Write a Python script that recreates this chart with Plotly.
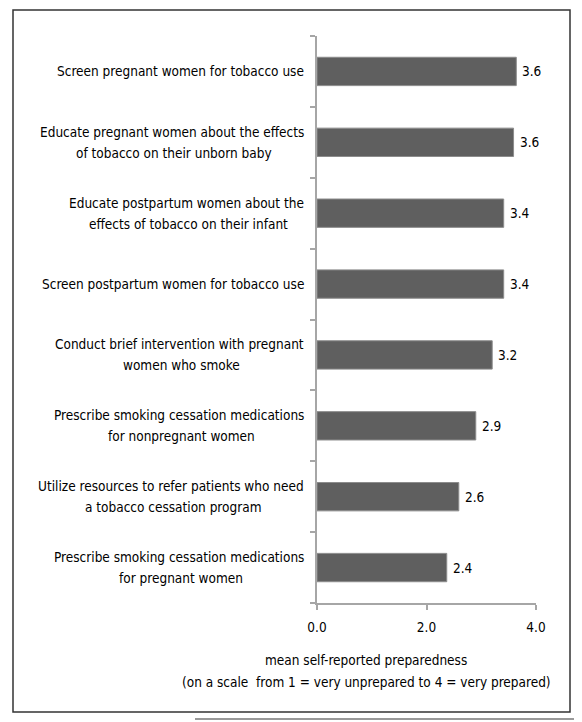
import plotly.graph_objects as go

categories = [
    "Screen pregnant women for tobacco use",
    "Educate pregnant women about the effects of tobacco on their unborn baby",
    "Educate postpartum women about the effects of tobacco on their infant",
    "Screen postpartum women for tobacco use",
    "Conduct brief intervention with pregnant women who smoke",
    "Prescribe smoking cessation medications for nonpregnant women",
    "Utilize resources to refer patients who need a tobacco cessation program",
    "Prescribe smoking cessation medications for pregnant women",
]
label_lines = [
    ["Screen pregnant women for tobacco use"],
    ["Educate pregnant women about the effects", "of tobacco on their unborn baby"],
    ["Educate postpartum women about the", "effects of tobacco on their infant"],
    ["Screen postpartum women for tobacco use"],
    ["Conduct brief intervention with pregnant", "women who smoke"],
    ["Prescribe smoking cessation medications", "for nonpregnant women"],
    ["Utilize resources to refer patients who need", "a tobacco cessation program"],
    ["Prescribe smoking cessation medications", "for pregnant women"],
]
values = [3.64, 3.59, 3.41, 3.41, 3.2, 2.9, 2.59, 2.37]
x_ticks = [0, 2, 4]
x_title_lines = [
    "mean self-reported preparedness",
    "(on a scale  from 1 = very unprepared to 4 = very prepared)",
]

# style: rendered pixel width of each label's first line (for centring line 2)
first_line_px = [247, 264, 235, 262, 249, 250, 266, 250]

FONT = "DejaVu Sans Condensed, Liberation Sans Narrow, sans-serif"
TXT = "#000000"
FS = 13.5
LINE = 21
GAP = 11

# page has an 8px body margin; figure coords = page coords - 8
W, H = 574, 714
L, R, T, B = 309, 46, 28, 119
PW, PH = W - L - R, H - T - B


def px(xf):
    return (xf - L) / PW


def py(yf):
    return (H - B - yf) / PH


fig = go.Figure()
fig.add_trace(go.Bar(
    x=values, y=categories, orientation="h",
    marker=dict(color="#5f5f5f", line=dict(color="#8c8c8c", width=1)),
    width=0.4, hoverinfo="skip",
))

ann = []
lab_font = dict(family=FONT, size=FS, color=TXT)
for cat, lines, w1 in zip(categories, label_lines, first_line_px):
    n = len(lines)
    for i, ln in enumerate(lines):
        ys = (n - 1) / 2 * LINE - i * LINE
        if i == 0:
            ann.append(dict(x=0, y=cat, xref="x", yref="y", text=ln, showarrow=False,
                            xanchor="right", yanchor="middle", xshift=-GAP, yshift=ys,
                            font=lab_font))
        else:
            ann.append(dict(x=0, y=cat, xref="x", yref="y", text=ln, showarrow=False,
                            xanchor="center", yanchor="middle",
                            xshift=-(GAP + w1 / 2), yshift=ys, font=lab_font))
for cat, v in zip(categories, values):
    ann.append(dict(x=v, y=cat, xref="x", yref="y", text=f"{v:.1f}", showarrow=False,
                    xanchor="left", yanchor="middle", xshift=4, font=lab_font))
for i, ln in enumerate(x_title_lines):
    ann.append(dict(x=px(358), y=py(652 + i * 22), xref="paper", yref="paper",
                    text=ln, showarrow=False, xanchor="center", yanchor="middle",
                    font=lab_font))

fig.update_layout(
    width=W, height=H,
    margin=dict(l=L, r=R, t=T, b=B),
    paper_bgcolor="white", plot_bgcolor="white",
    showlegend=False,
    annotations=ann,
    shapes=[
        dict(type="rect", xref="paper", yref="paper",
             x0=px(5), x1=px(562), y0=py(704), y1=py(2),
             line=dict(color="#333333", width=1.5)),
        dict(type="line", xref="paper", yref="paper",
             x0=px(187), x1=px(574), y0=py(711), y1=py(711),
             line=dict(color="#777777", width=1.5)),
    ],
)
fig.update_xaxes(
    range=[0, 4], tickvals=x_ticks, tickformat=".1f",
    showline=True, linecolor="#a6a6a6", linewidth=1.5,
    ticks="outside", ticklen=5, tickcolor="#a6a6a6", tickwidth=1.5,
    ticklabelstandoff=6,
    showgrid=False, zeroline=False,
    tickfont=lab_font,
)
fig.update_yaxes(
    categoryorder="array", categoryarray=categories[::-1],
    showticklabels=False, showline=True, linecolor="#a6a6a6", linewidth=1.5,
    ticks="outside", ticklen=5, tickcolor="#a6a6a6", tickwidth=1.5,
    tickson="boundaries", showgrid=False, zeroline=False,
)

fig.write_html("out.html")
